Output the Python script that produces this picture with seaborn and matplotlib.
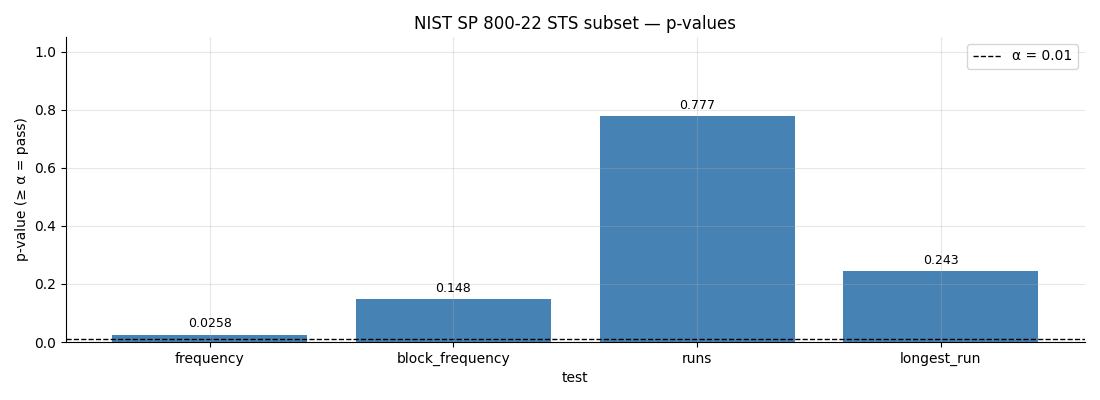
import matplotlib
matplotlib.use("Agg")
import matplotlib.pyplot as plt
import pandas as pd
import seaborn as sns

# Data
tests = ["frequency", "block_frequency", "runs", "longest_run"]
p_values = [0.0258, 0.148, 0.777, 0.243]
value_labels = ["0.0258", "0.148", "0.777", "0.243"]
alpha_level = 0.01

df = pd.DataFrame({"test": tests, "p": p_values})

# plain matplotlib look, no seaborn theme
sns.reset_orig()
plt.rcParams["font.family"] = ["DejaVu Sans"]

fig, ax = plt.subplots(figsize=(11, 4), dpi=100)
fig.subplots_adjust(left=0.06, right=0.986, top=0.9075, bottom=0.145)

sns.barplot(data=df, x="test", y="p", color="steelblue", saturation=1,
            width=0.8, linewidth=0, ax=ax)
ax.bar_label(ax.containers[0], labels=value_labels, padding=3, fontsize=9)

ax.axhline(alpha_level, color="black", linestyle="--", linewidth=1,
           label="α = 0.01")

ax.set_xlim(-0.59, len(tests) - 1 + 0.59)
ax.set_ylim(0, 1.05)
ax.set_title("NIST SP 800-22 STS subset — p-values", fontsize=12)
ax.set_xlabel("test", fontsize=10)
ax.set_ylabel("p-value (≥ α = pass)", fontsize=10)
ax.grid(True, alpha=0.3)
ax.set_axisbelow(False)
for s in ["top", "right"]:
    ax.spines[s].set_visible(False)
ax.legend(loc="upper right", fontsize=10)

fig.savefig("out.png")
